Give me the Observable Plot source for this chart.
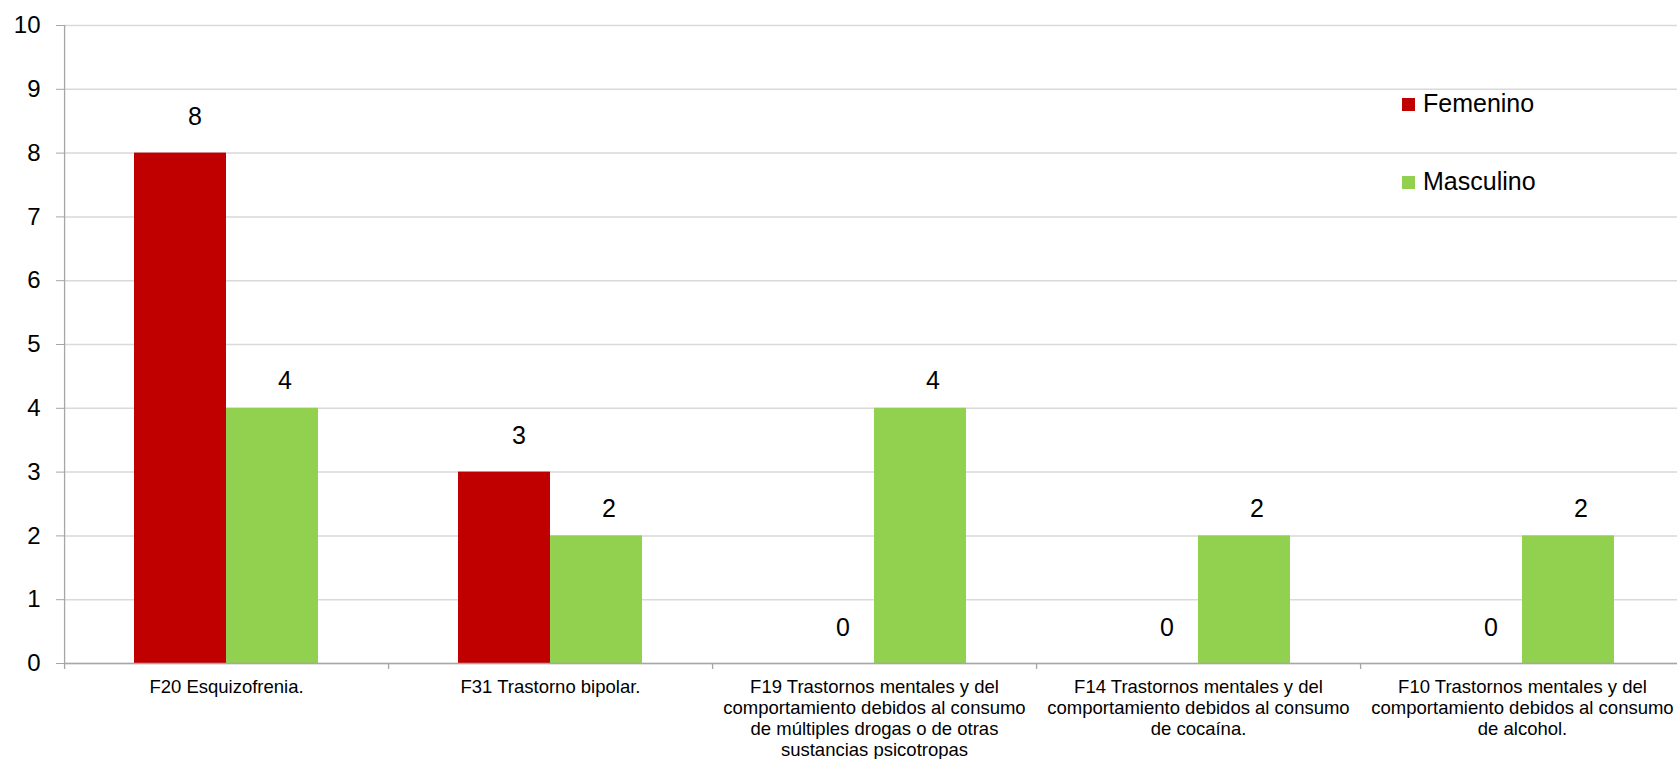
<!DOCTYPE html>
<html>
<head>
<meta charset="utf-8">
<script src="https://cdn.jsdelivr.net/npm/d3@7"></script>
<script src="https://cdn.jsdelivr.net/npm/@observablehq/plot@0.6"></script>
<style>
  html, body { margin: 0; padding: 0; background: #fff; overflow: hidden; }
  #wrap { position: relative; width: 1677px; height: 759px; overflow: hidden; font-family: "Liberation Sans", Arial, sans-serif; }
  #wrap svg { max-width: none !important; }
  .sw { position: absolute; width: 13px; height: 13px; }
  .lt { position: absolute; font-size: 25px; line-height: 25px; color: #000; white-space: nowrap; }
</style>
</head>
<body>
<div id="wrap"></div>
<script>
// ---- data ----
const categories = [
  "F20 Esquizofrenia.",
  "F31 Trastorno bipolar.",
  "F19 Trastornos mentales y del comportamiento debidos al consumo de múltiples drogas o de otras sustancias psicotropas",
  "F14 Trastornos mentales y del comportamiento debidos al consumo de cocaína.",
  "F10 Trastornos mentales y del comportamiento debidos al consumo de alcohol."
];
const tickLabels = [
  "F20 Esquizofrenia.",
  "F31 Trastorno bipolar.",
  "F19 Trastornos mentales y del\ncomportamiento debidos al consumo\nde múltiples drogas o de otras\nsustancias psicotropas",
  "F14 Trastornos mentales y del\ncomportamiento debidos al consumo\nde cocaína.",
  "F10 Trastornos mentales y del\ncomportamiento debidos al consumo\nde alcohol."
];
const series = ["Femenino", "Masculino"];
const femenino = [8, 3, 0, 0, 0];
const masculino = [4, 2, 4, 2, 2];
const colors = ["#c00000", "#92d050"];
const yTicks = [0, 1, 2, 3, 4, 5, 6, 7, 8, 9, 10];

// ---- table for the library ----
const rows = [];
categories.forEach((c, i) => {
  rows.push({category: c, sex: series[0], value: femenino[i]});
  rows.push({category: c, sex: series[1], value: masculino[i]});
});

// ---- layout (plot area runs slightly past the right edge, as in the original) ----
const W = 1685, H = 759, mL = 62, mR = 0, mT = 25, mB = 96;
const pOuter = 0.75;
const facetW = (W - mL - mR) / categories.length;
const step = facetW / (2 + 2 * pOuter);
const sepDx = -(step * pOuter + step / 2);
const axisGray = "#a6a6a6";

const chart = Plot.plot({
  width: W,
  height: H,
  marginLeft: mL,
  marginRight: mR,
  marginTop: mT,
  marginBottom: mB,
  facet: {marginTop: 0, marginRight: 0, marginBottom: 0, marginLeft: 0},
  style: {fontFamily: "'Liberation Sans', Arial, sans-serif", color: "#000", background: "#fff", maxWidth: "none"},
  fx: {domain: categories, padding: 0, axis: null},
  x: {domain: series, paddingInner: 0, paddingOuter: pOuter, axis: null},
  y: {domain: [0, 10], axis: null},
  color: {domain: series, range: colors},
  marks: [
    Plot.gridY(yTicks, {stroke: "#d9d9d9", strokeOpacity: 1, strokeWidth: 1.5}),
    Plot.barY(rows, {fx: "category", x: "sex", y: "value", fill: "sex"}),
    Plot.ruleY([0], {stroke: axisGray, strokeWidth: 1.5}),
    Plot.ruleX([categories[0]], {fx: d => d, x: () => series[0], dx: sepDx, y1: 10, y2: 0, insetBottom: -6, stroke: axisGray, strokeWidth: 1.3}),
    Plot.ruleX(categories.slice(1), {fx: d => d, x: () => series[0], dx: sepDx, y1: 0, y2: 0, insetBottom: -6, stroke: axisGray, strokeWidth: 1.3}),
    Plot.axisY({ticks: yTicks, tickSize: 8, tickPadding: 16, fontSize: 24, stroke: axisGray, fill: "#000", label: null, tickFormat: d => String(d)}),
    Plot.axisFx({anchor: "bottom", tickSize: 0, tickPadding: 15, fontSize: 18.5, lineHeight: 1.135, fill: "#000", label: null,
      tickFormat: d => tickLabels[categories.indexOf(d)]}),
    Plot.text(rows.filter(r => r.sex === series[0]), {fx: "category", x: "sex", y: "value", text: d => String(d.value), dx: 14.5, dy: -36, fontSize: 25, fill: "#000"}),
    Plot.text(rows.filter(r => r.sex === series[1]), {fx: "category", x: "sex", y: "value", text: d => String(d.value), dx: 12.5, dy: -27, fontSize: 25, fill: "#000"})
  ]
});

const wrap = document.getElementById("wrap");
wrap.appendChild(chart);

// ---- legend (overlaid inside the plot area) ----
const legendTops = [98, 176];
series.forEach((s, i) => {
  const sw = document.createElement("div");
  sw.className = "sw";
  sw.style.left = "1402px";
  sw.style.top = legendTops[i] + "px";
  sw.style.background = colors[i];
  wrap.appendChild(sw);
  const t = document.createElement("div");
  t.className = "lt";
  t.style.left = "1423px";
  t.style.top = (legendTops[i] - 7.5) + "px";
  t.textContent = s;
  wrap.appendChild(t);
});
</script>
</body>
</html>
